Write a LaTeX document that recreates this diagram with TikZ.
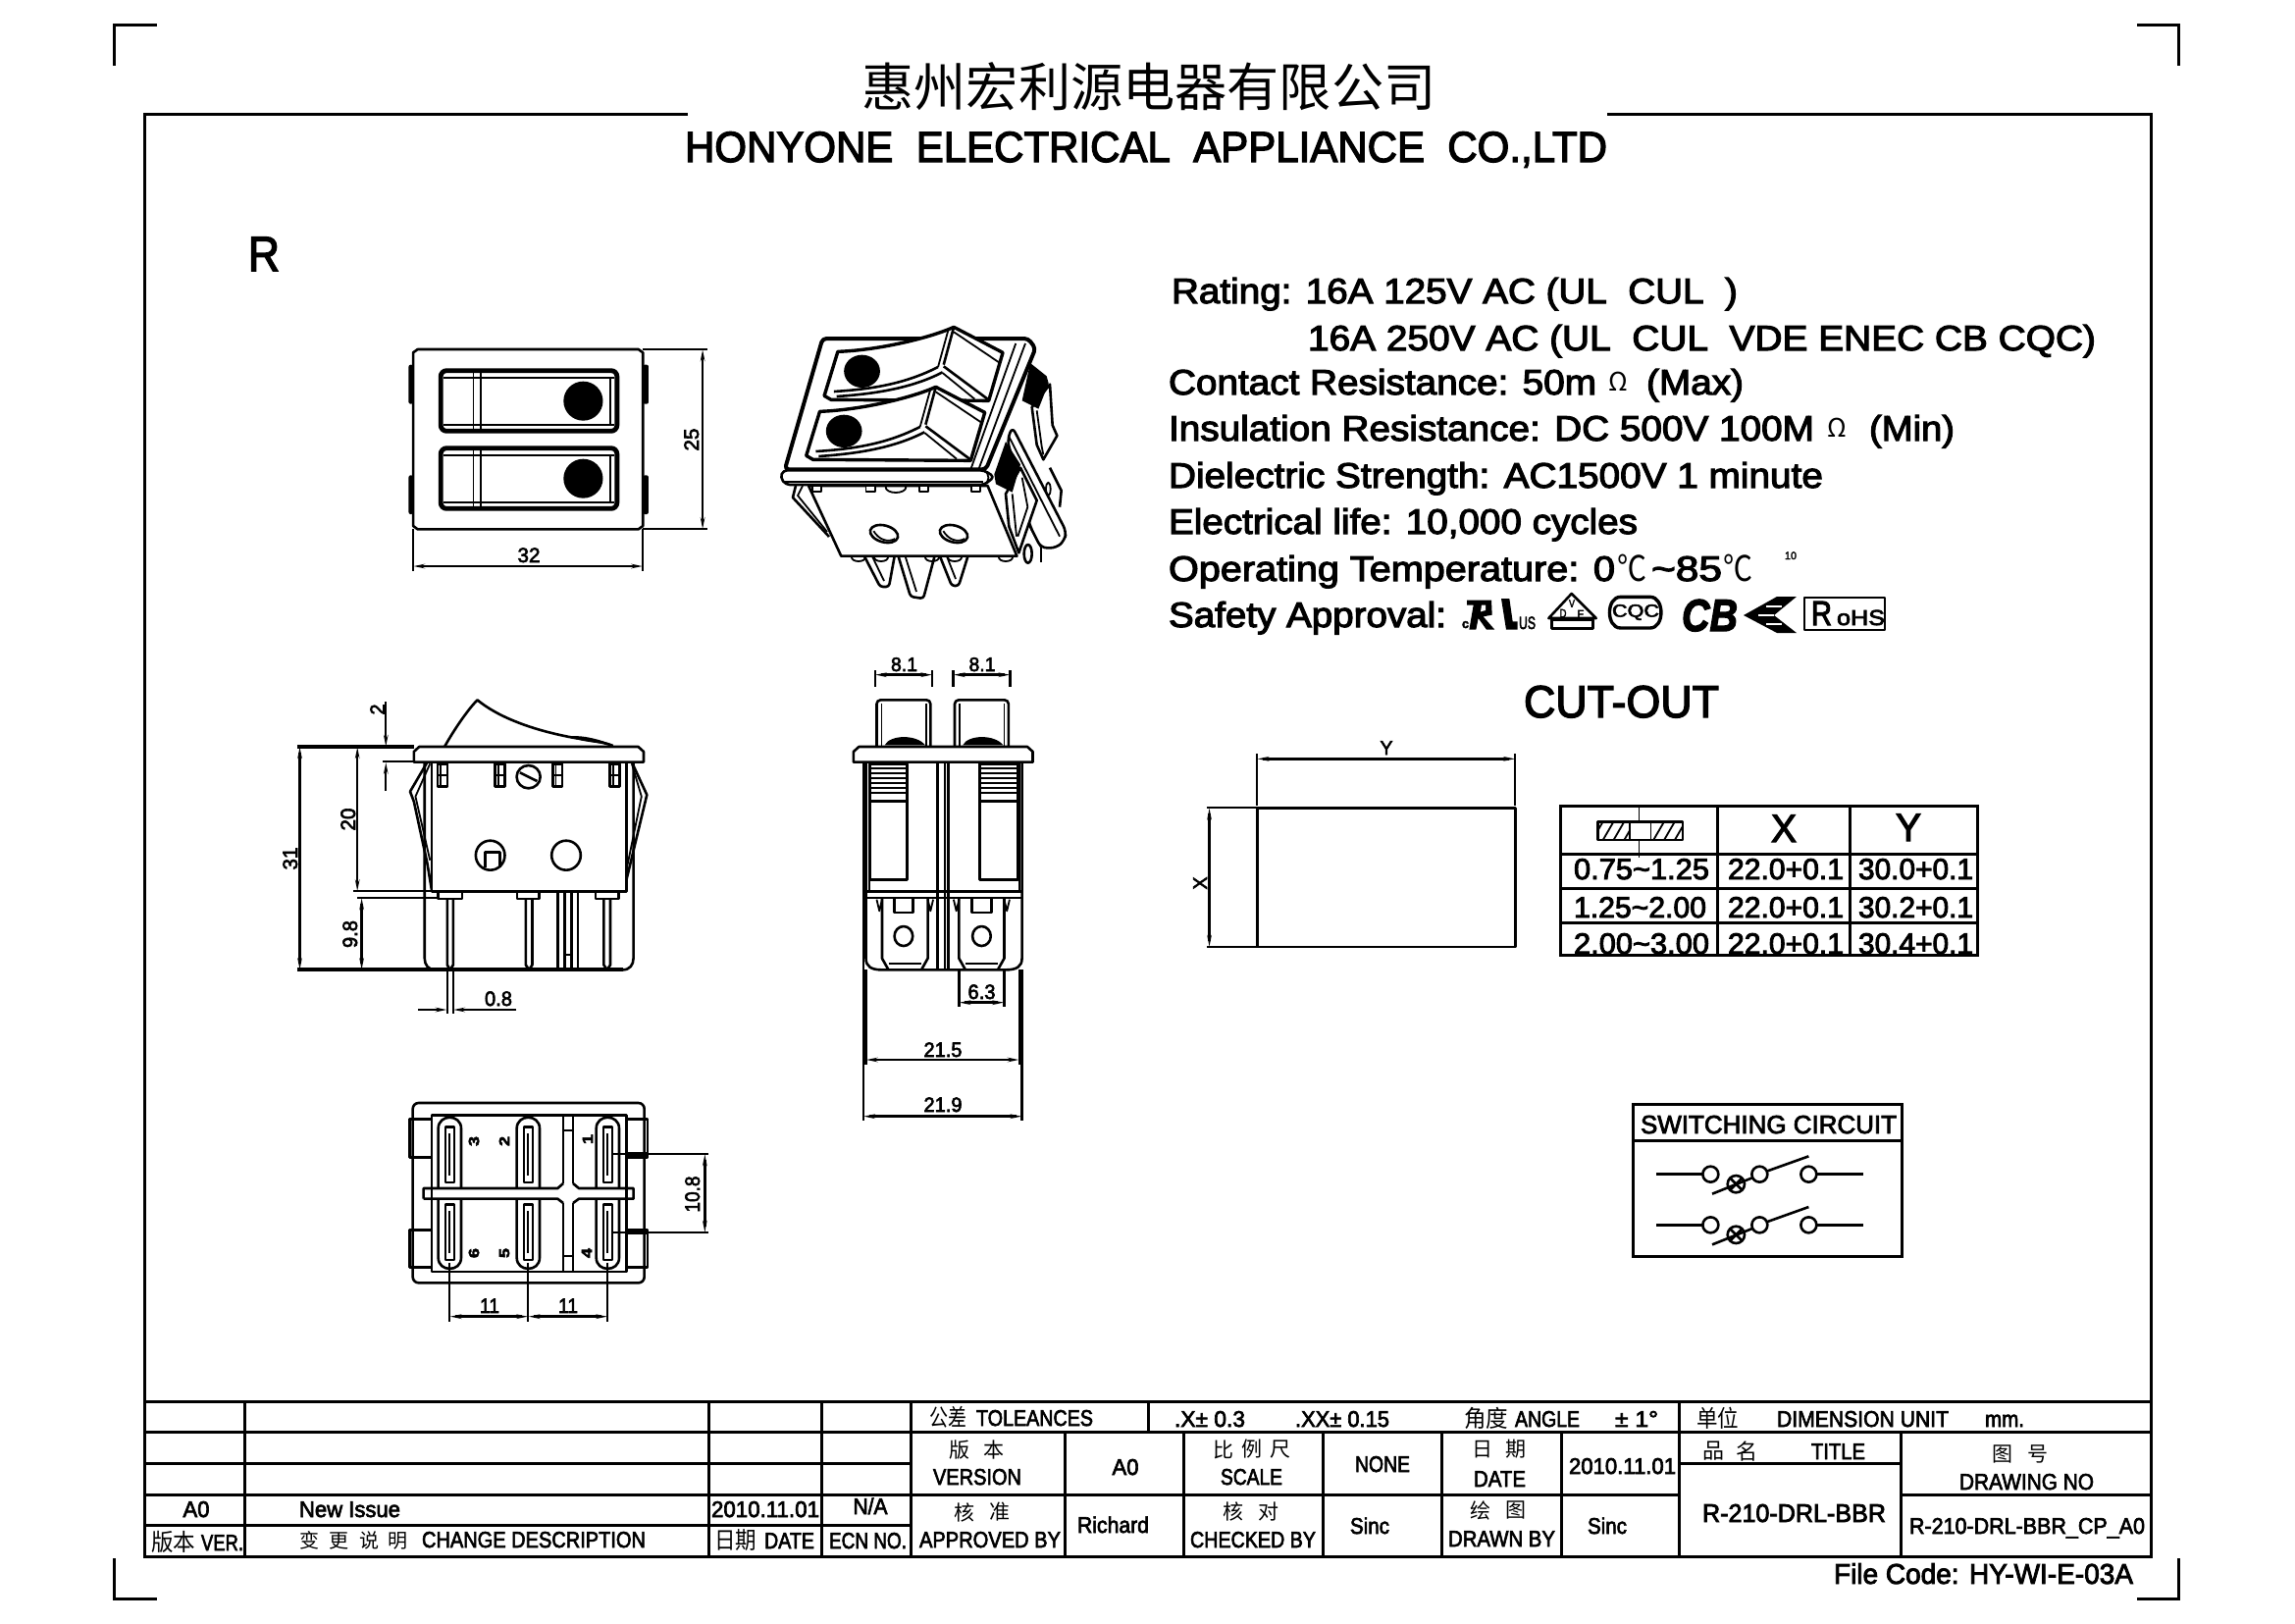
\documentclass[tikz,border=0pt]{standalone}
\usepackage{graphicx}
\usepackage{fontspec}
\setmainfont[FakeBold=3]{Liberation Sans}
\newfontfamily\cjk{Noto Sans CJK SC}
\usetikzlibrary{arrows.meta}
\newdimen\pxu \pxu=0.5pt
\newcounter{tn}
% \T[opts]{anchor}{x}{y}{font px}{width px}{text}
\newcommand\T[7][]{\stepcounter{tn}\node[inner sep=0pt,outer sep=0pt,anchor=#2,#1] (t\arabic{tn}) at (#3,#4) {\fontsize{#5\pxu}{#5\pxu}\selectfont\resizebox{#6\pxu}{\height}{#7}};}
% \C{x}{y}{font px}{text}
\newcommand\C[4]{\stepcounter{tn}\node[inner sep=0pt,outer sep=0pt,anchor=center] (t\arabic{tn}) at (#1,#2) {\fontsize{#3\pxu}{#3\pxu}\selectfont\cjk #4};}
\tikzset{
 l/.style={line width=1.3pt,line join=round},
 lt/.style={line width=2pt,line join=round},
 lf/.style={line width=.9pt,line join=round},
 tb/.style={line width=1.5pt},
 ext/.style={line width=1.1pt},
 dimn/.style={line width=1.2pt,{Stealth[length=5.5pt,width=2pt]}-{Stealth[length=5.5pt,width=2pt]}},
 dimh/.style={line width=1.2pt,-{Stealth[length=5.5pt,width=2pt]}},
 zA/.style={shift={(250,300)},x=.287pt,y=-.16667pt},
 zB/.style={shift={(260,680)},x=.27423pt,y=-.16667pt},
 zC/.style={shift={(380,1100)},x=.16667pt,y=-.16667pt},
 zE/.style={shift={(1200,680)},x=.27104pt,y=-.16667pt},
 zF/.style={shift={(1640,1110)},x=.16667pt,y=-.16667pt},
 zG/.style={shift={(960,320)},x=.16667pt,y=-.16667pt},
 zH/.style={shift={(1480,600)},x=.16667pt,y=-.16667pt},
}
\begin{document}
\begin{tikzpicture}[x=0.5pt,y=-0.5pt]
\useasboundingbox (0,0) rectangle (2339,1654);
% corner marks
\draw[tb] (116,67) -- (116,25) -- (160,25);
\draw[tb] (2178,25) -- (2220,25) -- (2220,67);
\draw[tb] (116,1588) -- (116,1629) -- (160,1629);
\draw[tb] (2178,1629) -- (2220,1629) -- (2220,1588);
% frame
\draw[tb] (701,116) -- (147,116) -- (147,1586) -- (2192,1586) -- (2192,116) -- (1638,116);
% heading
\T{center}{1171}{88}{53}{585}{\cjk 惠州宏利源电器有限公司}
\T{base}{1168}{165}{44}{940}{HONYONE\ \ ELECTRICAL\ \ APPLIANCE\ \ CO.,LTD}
\T{base west}{253}{276}{50}{32}{R}

% ---------- top view
\begin{scope}[zA]
\draw[l] (306,168) -- (698,168) -- (706,178) -- (706,708) -- (698,718) -- (306,718) -- (298,708) -- (298,178) -- cycle;
\fill[rounded corners=1pt] (290,215) rectangle (298,335);
\fill[rounded corners=1pt] (290,553) rectangle (298,672);
\fill[rounded corners=1pt] (706,215) rectangle (716,335);
\fill[rounded corners=1pt] (706,553) rectangle (716,672);
\foreach \d in {0,237}{
\begin{scope}[shift={(0,\d)}]
\draw[line width=2.4pt,rounded corners=3pt] (347,233) rectangle (660,418);
\draw[lf] (352,255) -- (655,255) (352,398) -- (655,398);
\draw[lf] (405,240) -- (405,412) (418,240) -- (418,412);
\draw[lf] (648,255) -- (648,398);
\fill (600,326) ellipse (35 and 60);
\end{scope}}
\draw[ext] (706,168) -- (820,168) (706,718) -- (820,718);
\draw[dimn] (812,168) -- (812,718);
\draw[ext] (298,718) -- (298,845) (706,718) -- (706,845);
\draw[dimn] (298,831) -- (706,831);
\end{scope}
\T[rotate=90]{base}{712}{448}{21}{23}{25}
\T{base}{539}{573}{21}{23}{32}

% ---------- isometric view
\begin{scope}[zG]
% upper spring
\draw[l,fill=white] (275,285) -- (330,215) -- (338,340) -- (352,372) -- (310,445) -- (290,400) -- cycle;
\draw[lf] (290,295) -- (305,405) -- (310,430);
\fill (270,150) -- (320,190) -- (326,212) -- (295,290) -- (245,265) -- cycle;
% long rear plate
\draw[l] (330,470) -- (365,540) -- (360,590);
\draw[l] (270,650) -- (305,715);
\draw[l,fill=white,rounded corners=3pt] (215,345) -- (380,665) -- (375,692) -- (350,715) -- (303,715) -- (270,650) -- (200,385) -- cycle;
\draw[lf] (205,375) -- (360,680);
\draw[lf] (325,535) ellipse (7 and 20);
% lower spring
\draw[l,fill=white] (240,470) -- (290,570) -- (235,730) -- (205,650) -- (195,550) -- cycle;
\draw[lf] (215,550) -- (228,680);
\draw[lf] (245,500) -- (262,590) -- (232,680);
\fill (195,390) -- (240,460) -- (215,545) -- (165,520) -- (160,490) -- cycle;
\draw[l] (263,733) ellipse (12 and 28);
\draw[l] (303,715) -- (303,760);
\end{scope}
% left spring
\draw[l] (811,495) -- (808,507) -- (845,547);
\draw[lf] (818,495) -- (813,505) -- (843,542);
% pins
\draw[l,fill=white,rounded corners=1.5pt] (880,565) -- (897,598) -- (906,598) -- (912,565);
\draw[lf] (888,565) -- (901,592);
\draw[l,fill=white,rounded corners=1.5pt] (915,565) -- (928,608) -- (941,610) -- (953,565);
\draw[lf] (922,565) -- (934,603);
\draw[l,fill=white,rounded corners=1.5pt] (958,567) -- (970,597) -- (977,597) -- (987,565);
\draw[lf] (965,567) -- (974,590);
\foreach \x in {875,898,950,973,1025}{\draw[lf] (\x,568) ellipse (7 and 4);}
\begin{scope}[zA]
% body
\draw[l,fill=white] (1000,585) -- (1058,800) -- (1370,800) -- (1318,585) -- cycle;
\foreach \x in {1015,1110,1205,1297}{\draw[lf,fill=white] (\x-8,585) rectangle (\x+8,604);}
\draw[lf] (1155,590) ellipse (18 and 16);
% frame
\draw[lt,fill=white,rounded corners=2pt] (1025,135) -- (1390,135) -- (1403,165) -- (1315,535) -- (958,535) -- cycle;
\draw[lf] (1385,150) -- (1302,535);
\draw[lf] (1368,150) -- (1288,535);
\draw[l,fill=white,rounded corners=2pt] (955,538) -- (1312,538) -- (1330,558) -- (1312,582) -- (960,582) -- (950,560) -- cycle;
\draw[lf] (1312,538) .. controls (1322,550) and (1322,570) .. (1312,582);
\draw[lf] (958,572) -- (1310,572);
% rockers
\foreach \sx/\sy in {0/0,-32/183}{
\begin{scope}[shift={(\sx,\sy)}]
\draw[line width=1.7pt,fill=white,line join=round] (1052,175) .. controls (1130,170) and (1220,130) .. (1258,100) -- (1345,178) -- (1320,325) -- (1040,322) -- (1028,310) -- cycle;
\draw[l] (1258,100) -- (1240,215);
\draw[lf] (1248,110) -- (1230,222);
\draw[l] (1230,222) .. controls (1170,275) and (1110,290) .. (1045,297);
\draw[l] (1238,238) .. controls (1180,290) and (1110,305) .. (1050,312);
\draw[lf] (1258,115) -- (1340,210);
\draw[l] (1240,220) -- (1318,320);
\draw[lf] (1238,240) -- (1295,320);
\fill (1095,235) ellipse (32 and 50);
\end{scope}}
\end{scope}
\foreach \x in {901,972}{
 \draw[l,rotate around={-15:(\x,544)}] (\x,544) ellipse (14.5 and 8.5);
 \draw[lf,rotate around={-15:(\x,544)}] (\x-11,544) .. controls (\x-4,551) and (\x+6,552) .. (\x+12,546);
}

% ---------- front view
\begin{scope}[zB]
\draw[l] (352,243) .. controls (370,190) and (395,130) .. (413,100) .. controls (450,150) and (510,190) .. (590,215) .. controls (620,222) and (650,230) .. (665,240);
\fill (580,212) .. controls (610,205) and (640,222) .. (665,236) .. controls (630,232) and (600,224) .. (580,212) -- cycle;
% springs
\draw[l] (320,290) -- (288,380) -- (295,410) -- (320,600) -- (328,680);
\draw[lf] (325,295) -- (298,395) -- (325,590);
\draw[l] (700,290) -- (728,390) -- (690,650);
\draw[lf] (700,295) -- (718,395) -- (690,620);
% outline
\draw[l] (315,290) -- (315,890) .. controls (315,910) and (322,925) .. (335,925);
\draw[l] (703,290) -- (703,890) .. controls (703,910) and (696,925) .. (683,925);
\draw[l,fill=white] (328,290) rectangle (690,685);
\draw[l,fill=white] (295,290) -- (295,258) -- (305,243) -- (712,243) -- (722,258) -- (722,290) -- cycle;
\foreach \x in {348,455,562,668}{
 \draw[l] (\x-9,295) rectangle (\x+9,365);
 \draw[lf] (\x-9,330) -- (\x+9,330) (\x-3,295) -- (\x-3,365);
}
\draw[l] (508,335) ellipse (22 and 35);
\draw[l] (492,322) -- (524,348);
\draw[l] (437,575) ellipse (27 and 45);
\draw[l] (428,612) -- (428,565) -- (455,565) -- (455,612);
\draw[l] (578,575) ellipse (27 and 45);
\foreach \a/\b in {340/385,487/528,633/675}{\draw[l] (\a,685) rectangle (\b,708);}
\foreach \a/\b in {357/368,503/515,648/660}{
 \draw[l] (\a,708) -- (\a,910) -- ({(\a+\b)/2},925) -- (\b,910) -- (\b,708);
}
\draw[l] (563,685) -- (563,925) (575,685) -- (575,925) (588,685) -- (588,925) (600,685) -- (600,925);
\draw[lf] (575,880) -- (588,880);
% dimensions
\draw[lt] (78,243) -- (295,243);
\draw[lt] (78,925) -- (683,925);
\draw[ext] (237,287) -- (295,287);
\draw[dimh] (243,105) -- (243,243);
\draw[dimh] (243,378) -- (243,290);
\draw[dimn] (190,243) -- (190,685);
\draw[ext] (183,685) -- (328,685);
\draw[dimn] (83,243) -- (83,925);
\draw[dimn] (198,705) -- (198,925);
\draw[ext] (190,705) -- (338,705);
\draw[ext] (357,925) -- (357,1060) (368,925) -- (368,1060);
\draw[dimh] (303,1047) -- (357,1047);
\draw[dimh] (485,1047) -- (368,1047);
\end{scope}
\T[rotate=90]{base}{392}{723}{21}{11}{2}
\T[rotate=90]{base}{362}{835}{21}{23}{20}
\T[rotate=90]{base}{303}{875}{21}{23}{31}
\T[rotate=90]{base}{364}{952}{21}{28}{9.8}
\T{base west}{494}{1025}{21}{28}{0.8}

% ---------- side view
\begin{scope}[zB]
\foreach \a/\b in {1155/1255,1300/1400}{
 \draw[l,rounded corners=2pt] (\a,243) -- (\a,100) -- (\b,100) -- (\b,243);
 \draw[lf] (\a+9,110) -- (\a+9,243) (\b-8,110) -- (\b-8,243);
 \fill (\a+15,238) .. controls (\a+25,205) and (\b-25,205) .. (\b-10,238) -- cycle;
}
\draw[l] (1135,290) -- (1135,890) .. controls (1135,915) and (1145,925) .. (1165,925) -- (1395,925) .. controls (1415,925) and (1425,915) .. (1425,890) -- (1425,290);
\draw[lf] (1142,290) -- (1142,685) (1420,290) -- (1420,685);
\draw[l] (1268,290) -- (1268,925) (1288,290) -- (1288,925);
\draw[lf] (1282,290) -- (1282,925);
\draw[l,fill=white] (1112,290) -- (1112,258) -- (1122,243) -- (1435,243) -- (1445,258) -- (1445,290) -- cycle;
\foreach \a/\b in {1142/1212,1347/1418}{
 \draw[l] (\a,295) rectangle (\b,650);
 \foreach \y in {310,325,340,355,370,385}{\draw[lf] (\a,\y) -- (\b,\y);}
 \draw[l] (\a,410) -- (\b,410);
}
\draw[l] (1135,685) -- (1425,685);
\draw[lf] (1135,705) -- (1425,705);
\foreach \a/\b/\c/\d/\h in {1165/1250/1188/1222/1205,1308/1392/1332/1368/1350}{
 \draw[l] (\a,705) -- (\a,890) -- (\a+12,925) (\b,705) -- (\b,890) -- (\b-12,925);
 \draw[lf] (\a+12,905) -- (\b-12,905);
 \draw[l] (\c,708) -- (\c,750) -- (\d,750) -- (\d,708);
 \draw[l] (\h,822) ellipse (17 and 30);
 \draw[lf] (\a-10,710) -- (\a-5,745) -- (\a,710);
 \draw[lf] (\b,710) -- (\b+5,745) -- (\b+10,710);
}
\draw[ext] (1308,925) -- (1308,1037) (1392,925) -- (1392,1037);
\draw[dimn] (1308,1025) -- (1392,1025);
\draw[ext] (1135,925) -- (1135,1215) (1420,925) -- (1420,1215);
\draw[dimn] (1135,1200) -- (1420,1200);
\draw[ext] (1130,290) -- (1130,1385);
\draw[ext] (1425,925) -- (1425,1385);
\draw[dimn] (1130,1373) -- (1425,1373);
\end{scope}
\begin{scope}[zA]
\draw[ext] (1118,1150) -- (1118,1200) (1220,1150) -- (1220,1200) (1257,1150) -- (1257,1200) (1358,1150) -- (1358,1200);
\draw[dimn] (1118,1163) -- (1220,1163);
\draw[dimn] (1257,1163) -- (1358,1163);
\end{scope}
\T{base}{921.5}{684}{20}{27}{8.1}
\T{base}{1001}{684}{20}{27}{8.1}
\T{base}{1000.5}{1018}{21}{28}{6.3}
\T{base}{961}{1077}{21}{39}{21.5}
\T{base}{961}{1133}{21}{39}{21.9}

% ---------- bottom view
\begin{scope}[zC]
\draw[l,rounded corners=3pt] (122,72) -- (830,72) -- (830,622) -- (122,622) -- cycle;
\draw[l] (112,122) rectangle (180,238);
\draw[l] (112,460) rectangle (180,575);
\draw[l] (775,122) rectangle (840,238);
\draw[l] (775,460) rectangle (840,575);
\draw[l,fill=white] (180,110) rectangle (775,588);
\foreach \a in {200,440,683}{
 \draw[l] (\a,330) -- (\a,150) .. controls (\a,105) and (\a+70,105) .. (\a+70,150) -- (\a+70,330);
 \draw[l] (\a,365) -- (\a,545) .. controls (\a,590) and (\a+70,590) .. (\a+70,545) -- (\a+70,365);
 \draw[l] (\a+22,145) rectangle (\a+49,315);
 \draw[lf] (\a+35,165) -- (\a+35,295);
 \draw[l] (\a+22,382) rectangle (\a+49,552);
 \draw[lf] (\a+35,402) -- (\a+35,532);
}
\draw[l] (582,110) -- (582,318) (612,110) -- (612,318) (582,378) -- (582,588) (612,378) -- (612,588);
\draw[lf] (582,155) -- (612,155) (582,540) -- (612,540);
\draw[l] (155,365) -- (155,333) -- (565,333) -- (582,318) (612,318) -- (630,333) -- (797,333) -- (797,365) -- (630,365) -- (612,378) (582,378) -- (565,365) -- (155,365);
\draw[lt] (775,228) -- (840,228) (775,468) -- (840,468);
\draw[ext] (735,228) -- (1025,228) (735,468) -- (1025,468);
\draw[dimn] (1015,228) -- (1015,468);
\draw[ext] (235,560) -- (235,740) (475,560) -- (475,740) (718,560) -- (718,740);
\draw[dimn] (235,725) -- (475,725);
\draw[dimn] (475,725) -- (718,725);
\end{scope}
\T[rotate=90]{center}{483}{1163}{15}{10}{\bfseries 3}
\T[rotate=90]{center}{514}{1163}{15}{10}{\bfseries 2}
\T[rotate=90]{center}{599}{1161}{15}{10}{\bfseries 1}
\T[rotate=90]{center}{483}{1277}{15}{10}{\bfseries 6}
\T[rotate=90]{center}{514}{1277}{15}{10}{\bfseries 5}
\T[rotate=90]{center}{598}{1277}{15}{10}{\bfseries 4}
\T[rotate=90]{base}{713}{1217}{21}{37}{10.8}
\T{base}{499}{1338}{21}{20}{11}
\T{base}{579}{1338}{21}{20}{11}

% ---------- specifications
\T{base west}{1194}{309}{36}{577}{Rating: 16A 125V AC (UL\ \ CUL\ \ )}
\T{base west}{1333}{357}{36}{803}{16A 250V AC (UL\ \ CUL\ \ VDE ENEC CB CQC)}
\T{base west}{1191}{402}{36}{436}{Contact Resistance: 50m}
\C{1649}{389}{26}{Ω}
\T{base west}{1678}{402}{36}{99}{(Max)}
\T{base west}{1191}{449}{36}{658}{Insulation Resistance: DC 500V 100M}
\C{1872}{436}{26}{Ω}
\T{base west}{1905}{449}{36}{87}{(Min)}
\T{base west}{1191}{497}{36}{667}{Dielectric Strength: AC1500V 1 minute}
\T{base west}{1191}{544}{36}{478}{Electrical life: 10,000 cycles}
\T{base west}{1191}{592}{36}{455}{Operating Temperature: 0}
\T{base west}{1648}{592}{36}{30}{\cjk ℃}
\T{base west}{1683}{592}{36}{72}{\textasciitilde 85}
\T{base west}{1756}{592}{36}{30}{\cjk ℃}
\T{base west}{1819}{570}{11}{12}{10}
\T{base west}{1191}{639}{36}{283}{Safety Approval:}
% approval marks
\T{base west}{1490}{640}{13}{7}{\bfseries c}
\begin{scope}[zH]
\fill (45,35) -- (120,35) -- (122,80) -- (95,85) -- (130,125) -- (105,125) -- (80,90) -- (73,125) -- (52,125) -- (65,50) -- (45,50) -- cycle;
\fill[white] (90,50) -- (102,50) -- (102,66) -- (87,70) -- cycle;
\fill (150,30) -- (175,30) -- (185,100) -- (200,100) -- (200,125) -- (165,125) -- cycle;
\draw[l] (365,15) -- (440,90) -- (295,90) -- cycle;
\draw[l] (305,95) -- (430,95) -- (430,122) -- (305,122) -- cycle;
\draw[line width=1.7pt] (515,25) .. controls (470,25) and (470,120) .. (515,120) -- (605,120) .. controls (650,120) and (650,25) .. (605,25) -- cycle;
\end{scope}
\T{base west}{1548}{641}{18}{17}{US}
\T{center}{1602}{615}{11}{6}{V}
\T{center}{1593}{625}{12}{7}{D}
\T{center}{1611}{626}{12}{7}{E}
\T{center}{1667}{624}{18}{48}{CQC}
\T{base west}{1714}{643}{46}{57}{\bfseries\itshape CB}
\fill (1811,608) -- (1831,608) -- (1808,627) -- (1831,645) -- (1811,645) -- (1777,627) -- cycle;
\draw[white,lf] (1792,627) -- (1808,627) (1800,618) -- (1816,618) (1800,636) -- (1816,636);
\draw[l] (1839,609) rectangle (1921,642);
\T{base west}{1846}{637}{35}{21}{R}
\T{base west}{1872}{637}{22}{49}{oHS}

% ---------- cut-out
\T{base west}{1553}{731}{46}{199}{CUT-OUT}
\begin{scope}[zE]
\draw[l] (150,430) rectangle (635,855);
\draw[ext] (150,265) -- (150,423) (635,265) -- (635,423);
\draw[dimn] (150,280) -- (635,280);
\draw[ext] (55,430) -- (150,430) (55,855) -- (150,855);
\draw[dimn] (60,430) -- (60,855);
% table
\draw[tb] (720,425) rectangle (1505,880);
\draw[l] (1015,425) -- (1015,880) (1265,425) -- (1265,880);
\draw[tb] (720,570) -- (1505,570) (720,675) -- (1505,675) (720,780) -- (1505,780);
% cross-section symbol
\begin{scope}
\clip (790,472) rectangle (950,528);
\foreach \x in {780,800,820,840,895,915,935,955}{\draw[lf] (\x,528) -- (\x+20,472);}
\end{scope}
\draw[line width=.9pt,fill=white] (850,472) rectangle (890,528);
\draw[l] (790,472) rectangle (950,528);
\draw[lf] (868,428) -- (868,470) (868,530) -- (868,582);
\end{scope}
\T{base}{1413}{769}{20}{13}{Y}
\T[rotate=90]{base}{1230}{900}{20}{13}{X}
\T{base}{1818}{858}{40}{26}{X}
\T{base}{1945}{857}{40}{26}{Y}
\T{base west}{1604}{896}{30}{138}{0.75\textasciitilde 1.25}
\T{base west}{1761}{896}{30}{118}{22.0+0.1}
\T{base west}{1894}{896}{30}{117}{30.0+0.1}
\T{base west}{1604}{935}{30}{135}{1.25\textasciitilde 2.00}
\T{base west}{1761}{935}{30}{118}{22.0+0.1}
\T{base west}{1894}{935}{30}{117}{30.2+0.1}
\T{base west}{1604}{972}{30}{138}{2.00\textasciitilde 3.00}
\T{base west}{1761}{972}{30}{118}{22.0+0.1}
\T{base west}{1894}{972}{30}{117}{30.4+0.1}

% ---------- switching circuit
\begin{scope}[zF]
\draw[tb] (72,45) rectangle (895,512);
\draw[tb] (72,158) -- (895,158);
\foreach \y in {260,415}{
 \draw[l] (145,\y) -- (287,\y) (635,\y) -- (778,\y);
 \draw[l] (310,\y) circle (24) (460,\y) circle (24) (610,\y) circle (24);
 \draw[l] (315,\y+60) -- (440,\y+10) (484,\y-10) -- (610,\y-55);
 \draw[l] (388,\y+30) circle (26);
 \draw[l] (370,\y+12) -- (406,\y+48) (370,\y+48) -- (406,\y+12);
}
\end{scope}
\T{base west}{1672}{1155}{26}{261}{SWITCHING CIRCUIT}

% ---------- title block
\draw[tb] (147,1428) -- (2192,1428) (147,1459) -- (2192,1459) (147,1491) -- (928,1491) (1711,1491) -- (1937,1491) (147,1523) -- (1711,1523) (1937,1523) -- (2192,1523) (147,1554) -- (928,1554);
\draw[tb] (249,1428) -- (249,1586) (722,1428) -- (722,1586) (837,1428) -- (837,1586) (928,1428) -- (928,1586) (1085,1459) -- (1085,1586) (1170.5,1428) -- (1170.5,1459) (1206,1459) -- (1206,1586) (1348,1459) -- (1348,1586) (1469,1459) -- (1469,1586) (1591,1459) -- (1591,1586) (1711,1428) -- (1711,1586) (1937,1459) -- (1937,1586);
\T{base west}{947}{1453}{24}{38}{\cjk 公差}
\T{base west}{995}{1453}{23}{119}{TOLEANCES}
\T{base west}{1197}{1454}{23}{72}{.X± 0.3}
\T{base west}{1320}{1454}{23}{96}{.XX± 0.15}
\T{base west}{1492}{1454}{24}{45}{\cjk 角度}
\T{base west}{1544}{1454}{23}{66}{ANGLE}
\T{base west}{1646}{1454}{23}{44}{± 1°}
\T{base west}{1729}{1454}{24}{43}{\cjk 单位}
\T{base west}{1811}{1454}{23}{175}{DIMENSION UNIT}
\T{base west}{2023}{1454}{23}{40}{mm.}
\C{978}{1478}{21}{版}\C{1013}{1478}{21}{本}
\T{base west}{951}{1513}{23}{90}{VERSION}
\T{base}{1147}{1503}{23}{27}{A0}
\C{1247}{1477}{21}{比}\C{1276}{1477}{21}{例}\C{1305}{1477}{21}{尺}
\T{base west}{1244}{1513}{23}{63}{SCALE}
\T{base west}{1381}{1500}{23}{56}{NONE}
\C{1511}{1477}{21}{日}\C{1545}{1477}{21}{期}
\T{base west}{1502}{1515}{23}{53}{DATE}
\T{base west}{1599}{1502}{23}{109}{2010.11.01}
\C{1746}{1479}{22}{品}\C{1780}{1479}{22}{名}
\T{base west}{1846}{1487}{23}{55}{TITLE}
\C{2041}{1482}{21}{图}\C{2077}{1482}{21}{号}
\T{base west}{1997}{1518}{23}{137}{DRAWING NO}
\T{base west}{1735}{1551}{26}{187}{R-210-DRL-BBR}
\T{base west}{1946}{1563}{23}{240}{R-210-DRL-BBR\_CP\_A0}
\T{base}{200}{1546}{23}{27}{A0}
\T{base west}{305}{1546}{23}{103}{New Issue}
\T{base west}{725}{1546}{23}{110}{2010.11.01}
\T{base}{887}{1543}{23}{35}{N/A}
\C{983}{1541}{21}{核}\C{1019}{1541}{21}{准}
\T{base west}{1098}{1562}{23}{73}{Richard}
\C{1257}{1540}{21}{核}\C{1293}{1540}{21}{对}
\T{base west}{1376}{1563}{23}{40}{Sinc}
\C{1509}{1539}{21}{绘}\C{1545}{1539}{21}{图}
\T{base west}{1618}{1563}{23}{40}{Sinc}
\T{base west}{154}{1580}{24}{45}{\cjk 版本}
\T{base west}{205}{1580}{23}{43}{VER.}
\C{315}{1570}{20}{变}\C{345}{1570}{20}{更}\C{376}{1570}{20}{说}\C{405}{1570}{20}{明}
\T{base west}{430}{1577}{23}{228}{CHANGE DESCRIPTION}
\T{base west}{728}{1578}{24}{43}{\cjk 日期}
\T{base west}{779}{1578}{23}{51}{DATE}
\T{base west}{845}{1578}{23}{79}{ECN NO.}
\T{base west}{937}{1577}{23}{144}{APPROVED BY}
\T{base west}{1213}{1577}{23}{128}{CHECKED BY}
\T{base west}{1476}{1576}{23}{109}{DRAWN BY}
\T{base west}{1869}{1614}{29}{305}{File Code: HY-WI-E-03A}
\end{tikzpicture}
\end{document}
